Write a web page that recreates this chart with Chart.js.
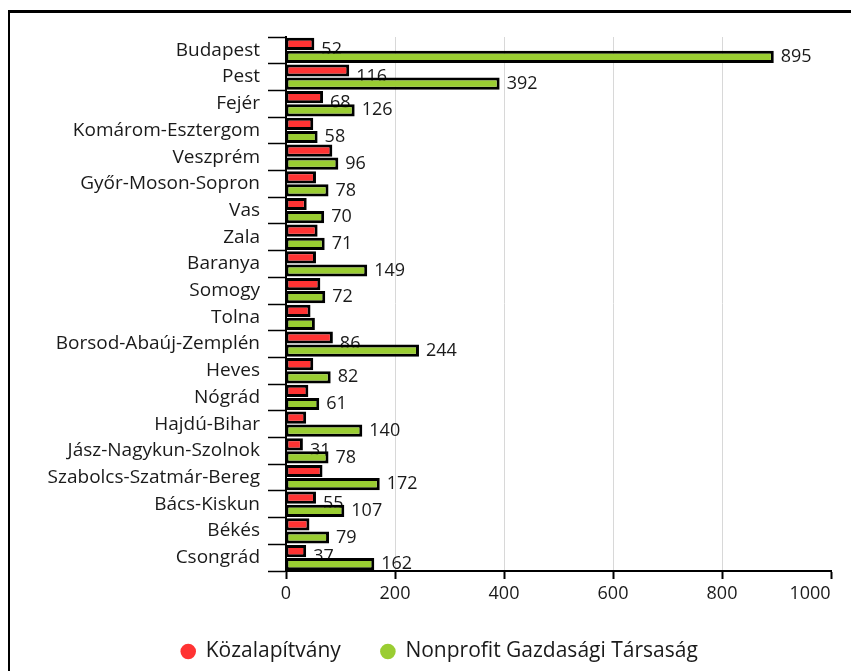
<!DOCTYPE html>
<html>
<head>
<meta charset="utf-8">
<title>Megyék</title>
<script src="https://cdn.jsdelivr.net/npm/chart.js@4.4.1/dist/chart.umd.min.js"></script>
<style>
    html, body { margin: 0; padding: 0; background: #fff; overflow: hidden; }
    #wrap { position: relative; width: 851px; height: 671px; }
    #frame {
        position: absolute; left: 8px; top: 10px; width: 900px; height: 700px;
        border-left: 2px solid #000; border-top: 3px solid #000; pointer-events: none;
    }
</style>
</head>
<body>
<div id="wrap">
    <canvas id="chart" width="851" height="671"></canvas>
    <div id="frame"></div>
</div>
<script>
// Data
const categories = ['Budapest', 'Pest', 'Fejér', 'Komárom-Esztergom', 'Veszprém', 'Győr-Moson-Sopron',
    'Vas', 'Zala', 'Baranya', 'Somogy', 'Tolna', 'Borsod-Abaúj-Zemplén', 'Heves', 'Nógrád',
    'Hajdú-Bihar', 'Jász-Nagykun-Szolnok', 'Szabolcs-Szatmár-Bereg', 'Bács-Kiskun', 'Békés', 'Csongrád'];
const kozalapitvany = [52, 116, 68, 50, 85, 55, 38, 58, 55, 63, 45, 86, 50, 41, 37, 31, 67, 55, 43, 37];
const nonprofit = [895, 392, 126, 58, 96, 78, 70, 71, 149, 72, 53, 244, 82, 61, 140, 78, 172, 107, 79, 162];
// which value labels are visible in the original
const showKozLabel = [1, 1, 1, 0, 0, 0, 0, 0, 0, 0, 0, 1, 0, 0, 0, 1, 0, 1, 0, 1];
const showNonLabel = [1, 1, 1, 1, 1, 1, 1, 1, 1, 1, 0, 1, 1, 1, 1, 1, 1, 1, 1, 1];
const xTicks = [0, 200, 400, 600, 800, 1000];

const textColor = '#1a1a1a';
Chart.defaults.font.family = "'Open Sans', sans-serif";
Chart.defaults.color = textColor;

/**
 * Value labels, drawn before the bars so the green bars cover the red labels a bit
 */
const valueLabels = {
    id: 'valueLabels',
    beforeDatasetsDraw(chart) {
        const ctx = chart.ctx;
        ctx.save();
        ctx.font = "18px 'Open Sans'";
        ctx.fillStyle = textColor;
        ctx.textBaseline = 'middle';
        ctx.textAlign = 'left';
        chart.data.datasets.forEach((ds, i) => {
            const shown = i === 0 ? showKozLabel : showNonLabel;
            chart.getDatasetMeta(i).data.forEach((bar, j) => {
                if (!shown[j]) return;
                const y = i === 0 ? bar.y + bar.height / 2 : bar.y;
                ctx.fillText(String(ds.data[j]), bar.x + 7, y);
            });
        });
        ctx.restore();
    }
};

/**
 * Nudge the legend a little to the right, like in the original
 */
const legendShift = {
    id: 'legendShift',
    afterLayout(chart) {
        chart.legend.left += 9;
        chart.legend.right += 9;
    }
};

const barBorder = { top: 3, left: 2, right: 3, bottom: 3 };

new Chart(document.getElementById('chart'), {
    type: 'bar',
    data: {
        labels: categories,
        datasets: [
            {
                label: 'Közalapítvány',
                data: kozalapitvany,
                backgroundColor: '#ff3333',
                borderColor: '#000',
                borderWidth: barBorder,
                borderSkipped: false,
                categoryPercentage: 0.98,
                barPercentage: 0.93
            },
            {
                label: 'Nonprofit Gazdasági Társaság',
                data: nonprofit,
                backgroundColor: '#9acd32',
                borderColor: '#000',
                borderWidth: barBorder,
                borderSkipped: false,
                categoryPercentage: 0.98,
                barPercentage: 0.93
            }
        ]
    },
    options: {
        indexAxis: 'y',
        responsive: false,
        animation: false,
        layout: { padding: { left: 30, right: 20, top: 37, bottom: -1 } },
        scales: {
            x: {
                min: 0,
                max: 1000,
                afterBuildTicks: scale => { scale.ticks = xTicks.map(v => ({ value: v })); },
                ticks: {
                    font: { size: 18 },
                    padding: 4,
                    // keep "1000" inside the frame like the original
                    callback: v => v === 1000 ? '1000         ' : String(v)
                },
                grid: {
                    color: ctx => (ctx.tick && ctx.tick.value > 0 && ctx.tick.value < 1000) ? '#d8d8d8' : 'rgba(0,0,0,0)',
                    tickColor: '#000',
                    tickLength: 8,
                    tickWidth: 2
                },
                border: { color: '#000', width: 2 },
                afterFit: scale => {
                    scale.height = 30;
                    scale.paddingLeft = 0;
                    scale.paddingRight = 0;
                }
            },
            y: {
                ticks: { font: { size: 19 }, padding: 8 },
                grid: { drawOnChartArea: false, tickLength: 18, tickColor: '#000', tickWidth: 1.5 },
                border: { color: '#000', width: 2 },
                afterFit: scale => {
                    scale.width = 256;
                    scale.paddingTop = 0;
                    scale.paddingBottom = 0;
                }
            }
        },
        plugins: {
            legend: {
                position: 'bottom',
                labels: {
                    usePointStyle: true,
                    pointStyle: 'circle',
                    boxWidth: 14,
                    boxHeight: 11,
                    padding: 40,
                    font: { size: 21 },
                    color: textColor,
                    generateLabels: chart => {
                        const items = Chart.defaults.plugins.legend.labels.generateLabels(chart);
                        items.forEach(item => {
                            item.lineWidth = 0;
                            item.strokeStyle = item.fillStyle;
                        });
                        return items;
                    }
                }
            },
            tooltip: { enabled: false }
        }
    },
    plugins: [valueLabels, legendShift]
});
</script>
</body>
</html>
